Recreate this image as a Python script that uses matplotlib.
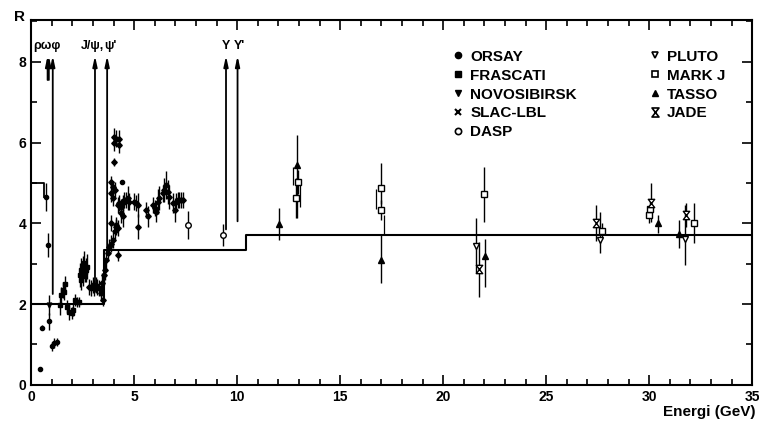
import numpy as np
import matplotlib.pyplot as plt
from matplotlib.lines import Line2D
from matplotlib.path import Path

plt.rcParams['font.family'] = ['Liberation Sans', 'DejaVu Sans']

# --- data ---
# ORSAY
orsay_E = [0.44, 0.55, 0.73, 0.83, 0.89, 1.00, 1.12, 1.26, 4.42]
orsay_R = [0.40, 1.42, 4.66, 3.47, 1.57, 0.95, 1.03, 1.07, 5.03]
orsay_err = [0.05, 0.07, 0.35, 0.30, 0.20, 0.10, 0.12, 0.10, 0.05]
# NOVOSIBIRSK
novo_E = [0.87]
novo_R = [1.98]
novo_err = [0.25]
# FRASCATI
frasc_E = [1.39, 1.47, 1.57, 1.62, 1.65, 1.76, 1.84, 1.98, 2.04, 2.12, 2.25, 2.33,
           2.35, 2.43, 2.51, 2.59, 2.67, 2.41, 2.52, 2.60, 2.69]
frasc_R = [1.98, 2.23, 2.35, 2.31, 2.50, 1.94, 1.81, 1.77, 1.86, 2.10, 2.06, 2.06,
           2.72, 2.85, 2.93, 3.01, 2.85, 2.60, 2.70, 2.80, 2.93]
frasc_err = [0.25, 0.20, 0.20, 0.20, 0.20, 0.15, 0.20, 0.15, 0.15, 0.15, 0.12, 0.12,
             0.30, 0.30, 0.25, 0.30, 0.30, 0.25, 0.25, 0.25, 0.30]
# SLAC-LBL
slac_E = [2.82, 2.90, 2.98, 3.06, 3.14, 3.22, 3.30, 3.38, 3.45, 3.50, 3.55, 3.60,
          3.65, 3.72, 3.80, 3.88, 3.97, 4.05, 4.13, 4.20, 3.88, 4.10, 4.21,
          4.00, 4.02, 4.13, 4.29, 4.29, 4.00, 3.88, 3.97, 3.88, 3.97, 4.05,
          4.21, 4.29, 4.37, 4.45, 4.53, 4.61, 4.69, 4.77, 5.01, 5.10, 5.18,
          4.37, 4.45, 5.18, 5.58, 5.66, 5.90, 5.99, 6.07, 6.15, 6.23, 6.39,
          6.47, 6.55, 6.64, 6.71, 6.88, 6.96, 7.04, 7.12, 7.20, 7.28, 7.36]
slac_R = [2.43, 2.39, 2.48, 2.39, 2.48, 2.43, 2.39, 2.27, 2.52, 2.10, 2.72, 2.85,
          3.09, 3.26, 3.42, 3.50, 3.59, 3.80, 3.96, 3.22, 4.00, 3.90, 3.88,
          6.15, 5.98, 6.10, 6.10, 5.94, 5.53, 5.03, 4.91, 4.74, 4.62, 4.83,
          4.46, 4.50, 4.41, 4.50, 4.58, 4.58, 4.62, 4.54, 4.54, 4.50, 4.46,
          4.25, 4.17, 3.92, 4.33, 4.17, 4.46, 4.37, 4.29, 4.54, 4.62, 4.74,
          4.83, 4.95, 4.78, 4.66, 4.50, 4.33, 4.54, 4.58, 4.58, 4.58, 4.58]
slac_err = [0.20, 0.20, 0.20, 0.20, 0.20, 0.20, 0.20, 0.20, 0.25, 0.15, 0.25, 0.25,
            0.25, 0.20, 0.20, 0.20, 0.20, 0.20, 0.20, 0.15, 0.20, 0.20, 0.20,
            0.20, 0.20, 0.20, 0.20, 0.20, 0.10, 0.15, 0.15, 0.20, 0.20, 0.20,
            0.20, 0.20, 0.20, 0.20, 0.20, 0.20, 0.30, 0.20, 0.20, 0.20, 0.30,
            0.25, 0.25, 0.30, 0.20, 0.25, 0.20, 0.20, 0.25, 0.30, 0.30, 0.20,
            0.30, 0.35, 0.30, 0.30, 0.25, 0.30, 0.20, 0.20, 0.20, 0.20, 0.20]
# DASP
dasp_E = [7.60, 9.32]
dasp_R = [3.96, 3.72]
dasp_err = [0.35, 0.27]
# PLUTO
pluto_E = [21.60, 27.60, 31.76]
pluto_R = [3.44, 3.59, 3.60]
pluto_lo = [0.67, 0.32, 0.63]
pluto_hi = [0.69, 0.70, 0.85]
# MARK J
markj_E = [12.86, 12.95, 16.96, 16.96, 22.00, 27.70, 30.00, 30.05, 32.17]
markj_R = [4.62, 5.03, 4.88, 4.33, 4.72, 3.80, 4.20, 4.35, 4.02]
markj_lo = [0.50, 0.30, 0.40, 0.25, 0.69, 0.20, 0.20, 0.20, 0.51]
markj_hi = [0.50, 0.30, 0.62, 0.25, 0.68, 0.20, 0.20, 0.20, 0.48]
# TASSO
tasso_E = [12.02, 12.90, 17.00, 22.04, 30.42, 31.47]
tasso_R = [3.98, 5.45, 3.09, 3.20, 4.00, 3.73]
tasso_lo = [0.40, 1.32, 0.57, 0.77, 0.24, 0.35]
tasso_hi = [0.40, 0.74, 0.62, 0.40, 0.20, 0.35]
# JADE
jade_E = [21.76, 27.43, 30.10, 31.80]
jade_R = [2.87, 4.00, 4.50, 4.20]
jade_lo = [0.69, 0.45, 0.46, 0.30]
jade_hi = [0.67, 0.46, 0.49, 0.30]

# systematic brackets next to some points
sys_E = [12.70, 13.05, 16.75, 17.12]
sys_lo = [4.95, 4.40, 4.35, 3.70]
sys_hi = [5.40, 5.00, 4.85, 4.20]

# quark-parton expectation (step line)
qpm_E = [0.0, 3.55, 3.55, 10.45, 10.45, 35.0]
qpm_R = [2.0, 2.0, 3.33, 3.33, 3.70, 3.70]
low_E = [0.0, 0.63, 0.63]
low_R = [5.0, 5.0, 4.65]

# resonances
res_E = [0.80, 0.86, 1.05, 3.10, 3.69, 9.46, 10.02]
res_base = [7.55, 7.55, 2.25, 2.30, 3.33, 3.85, 4.05]
res_top = 8.15
res_lab = ['ρωφ', 'J/ψ,', "ψ'", 'Υ', "Υ'"]
res_lab_E = [0.78, 3.0, 3.85, 9.46, 10.12]

hour = Path([(-0.5, 0.65), (0.5, 0.65), (-0.5, -0.65), (0.5, -0.65), (-0.5, 0.65)],
            [Path.MOVETO, Path.LINETO, Path.LINETO, Path.LINETO, Path.CLOSEPOLY])

fig = plt.figure(figsize=(7.59, 4.30), dpi=100)
ax = fig.add_axes([0.041, 0.105, 0.950, 0.848])

ax.plot(qpm_E, qpm_R, color='black', lw=1.5, zorder=2)
ax.plot(low_E, low_R, color='black', lw=1.3, zorder=2)

for E, b in zip(res_E, res_base):
    ax.annotate('', xy=(E, res_top), xytext=(E, b),
                arrowprops=dict(arrowstyle='-|>,head_length=0.6,head_width=0.13',
                                color='black', lw=1.3, shrinkA=0, shrinkB=0))
for E, t in zip(res_lab_E, res_lab):
    ax.text(E, 8.25, t, ha='center', va='bottom', fontsize=9, fontweight='bold')

eb = dict(color='black', elinewidth=1.0, capsize=0, ls='none', zorder=3)
ax.errorbar(orsay_E, orsay_R, yerr=orsay_err, marker='o', ms=3, mfc='black', mec='black', **eb)
ax.errorbar(novo_E, novo_R, yerr=novo_err, marker='v', ms=3.5, mfc='black', mec='black', **eb)
ax.errorbar(frasc_E, frasc_R, yerr=frasc_err, marker='s', ms=2.8, mfc='black', mec='black', **eb)
ax.errorbar(slac_E, slac_R, yerr=slac_err, marker='D', ms=2.8, mfc='black', mec='black', **eb)
ax.errorbar(dasp_E, dasp_R, yerr=dasp_err, marker='o', ms=4, mfc='white', mec='black', **eb)
ax.errorbar(pluto_E, pluto_R, yerr=[pluto_lo, pluto_hi], marker='v', ms=5, mfc='white', mec='black', **eb)
ax.errorbar(markj_E, markj_R, yerr=[markj_lo, markj_hi], marker='s', ms=4.5, mfc='white', mec='black', **eb)
ax.errorbar(tasso_E, tasso_R, yerr=[tasso_lo, tasso_hi], marker='^', ms=5, mfc='black', mec='black', **eb)
ax.errorbar(jade_E, jade_R, yerr=[jade_lo, jade_hi], marker=hour, ms=6, mfc='white', mec='black', **eb)
ax.vlines(sys_E, sys_lo, sys_hi, color='black', lw=0.9, zorder=3)

ax.set_xlim(0, 35)
ax.set_ylim(0, 9.03)
ax.set_xticks(np.arange(0, 36, 5))
ax.set_xticks(np.arange(0, 36, 1), minor=True)
ax.set_yticks([0, 2, 4, 6, 8])
ax.set_yticks([1, 3, 5, 7, 9], minor=True)
ax.tick_params(which='both', direction='in', top=True, right=True, width=1.2,
               labelsize=10)
ax.tick_params(which='major', length=7)
ax.tick_params(which='minor', length=4)
for lab in ax.get_xticklabels() + ax.get_yticklabels():
    lab.set_fontweight('bold')
for s in ax.spines.values():
    s.set_linewidth(1.5)

fig.text(0.018, 0.96, 'R', fontsize=11, fontweight='bold', ha='left', va='center')
fig.text(0.996, 0.042, 'Energi (GeV)', fontsize=11, fontweight='bold', ha='right', va='center')

handles = [
    Line2D([], [], ls='none', marker='o', ms=4.5, mfc='black', mec='black'),
    Line2D([], [], ls='none', marker='s', ms=4.5, mfc='black', mec='black'),
    Line2D([], [], ls='none', marker='v', ms=4.5, mfc='black', mec='black'),
    Line2D([], [], ls='none', marker='x', ms=4, mew=1.5, color='black'),
    Line2D([], [], ls='none', marker='o', ms=4.5, mfc='white', mec='black', mew=1.2),
    Line2D([], [], ls='none', marker='v', ms=4.5, mfc='white', mec='black', mew=1.2),
    Line2D([], [], ls='none', marker='s', ms=4.5, mfc='white', mec='black', mew=1.2),
    Line2D([], [], ls='none', marker='^', ms=4.5, mfc='black', mec='black'),
    Line2D([], [], ls='none', marker=hour, ms=6.5, mfc='white', mec='black', mew=1.2),
]
labels = ['ORSAY', 'FRASCATI', 'NOVOSIBIRSK', 'SLAC-LBL', 'DASP',
          'PLUTO', 'MARK J', 'TASSO', 'JADE']
ax.legend(handles, labels, ncol=2, loc='upper left', bbox_to_anchor=(0.575, 0.94),
          frameon=False, prop={'size': 11, 'weight': 'bold'}, handlelength=0.6,
          handletextpad=0.5, labelspacing=0.32, columnspacing=4.8, borderpad=0)

fig.savefig('out.png', dpi=100)
